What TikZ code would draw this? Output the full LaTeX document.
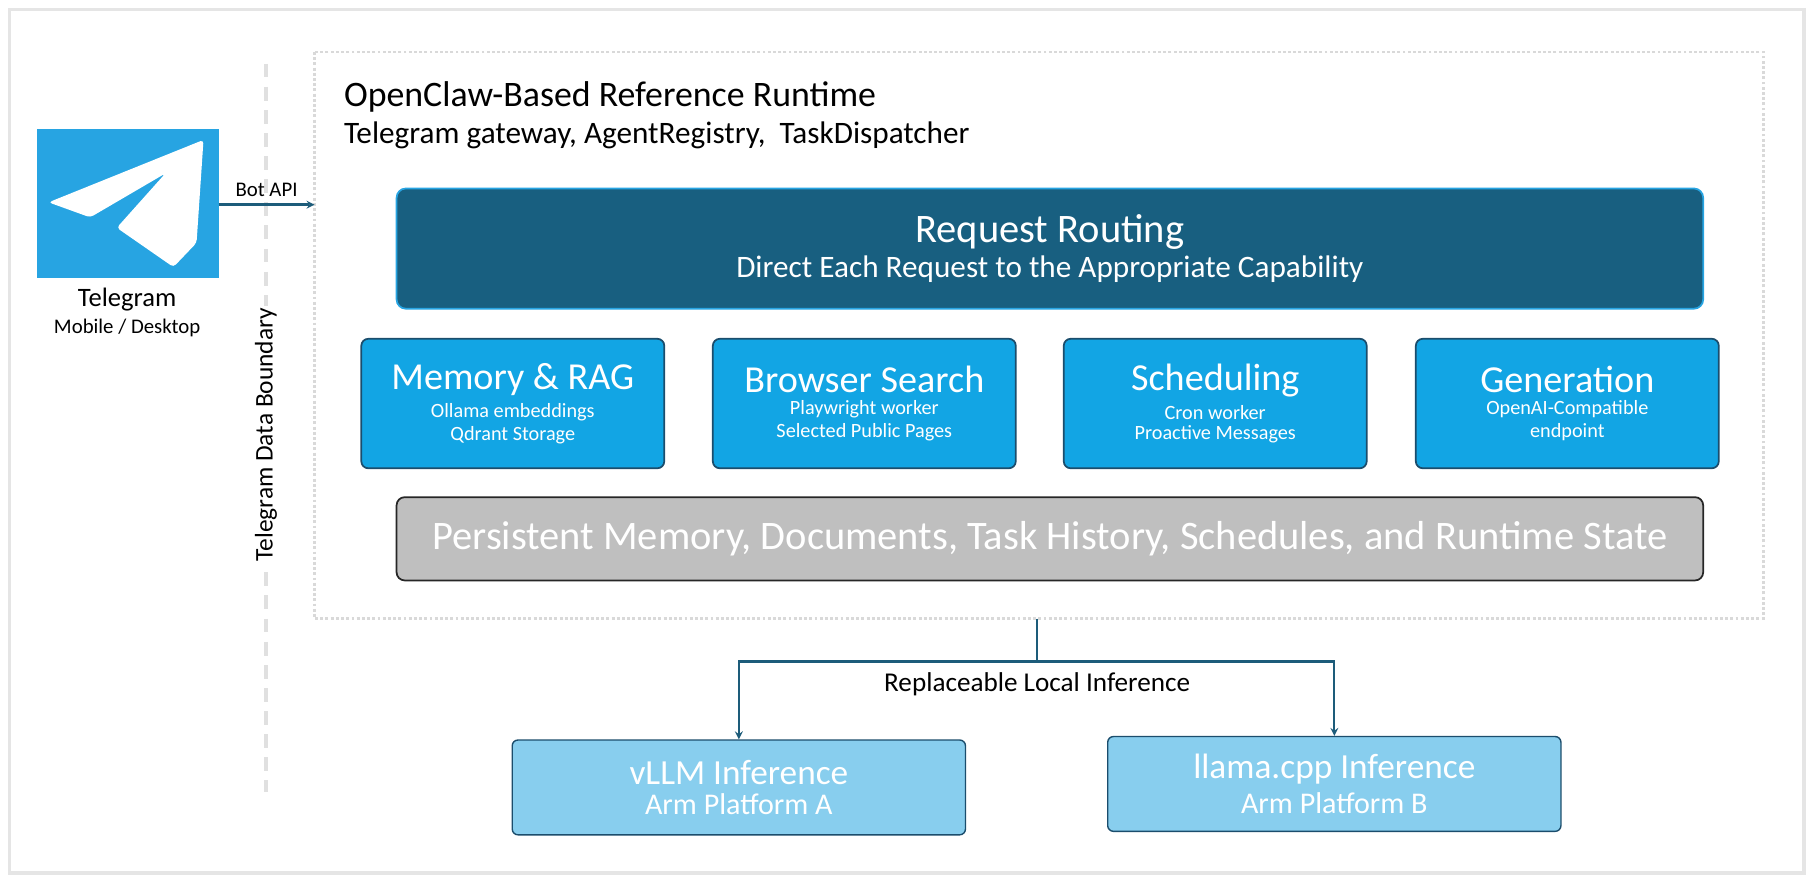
\documentclass[tikz,border=0pt]{standalone}
\usepackage{fontspec}
\setmainfont{Carlito}
\usetikzlibrary{positioning}
\definecolor{tgblue}{HTML}{27A4E2}
\definecolor{routing}{HTML}{185F80}
\definecolor{capfill}{HTML}{12A5E4}
\definecolor{capdraw}{HTML}{1B4D6C}
\definecolor{inffill}{HTML}{88CEEE}
\definecolor{linkcol}{HTML}{1D5C7A}
\newcommand{\fs}[2]{\fontsize{#1}{#2}\selectfont}
\tikzset{
  capability/.style={rectangle, rounded corners=6pt, draw=capdraw, line width=1.5pt,
    fill=capfill, text=white, minimum width=262pt, minimum height=112pt, align=center},
  inference/.style={rectangle, rounded corners=5pt, draw=capdraw, line width=1.2pt,
    fill=inffill, text=white, minimum width=392pt, minimum height=82pt, align=center},
  link/.style={line width=2pt, draw=linkcol, ->, >=stealth}
}
\begin{document}
\begin{tikzpicture}[x=1pt, y=-1pt]
  \useasboundingbox (0,0) rectangle (1568,762);
  \draw[line width=3pt, draw=black!10] (8,8) rectangle (1560,755);
  \draw[line width=2.5pt, draw=black!15, dotted] (272,45) rectangle (1525,535);
  % telegram side
  \fill[tgblue] (32,112) rectangle (189,240);
  \fill[white, rounded corners=3pt] (176,121) -- (42,175) -- (78,188) -- (143,150) -- (101,197) -- (150,231) -- (170,210) -- cycle;
  \coordinate (tgright) at (189,177);
  \coordinate (tgin) at (272,177);
  \node (tglabel) at (110,259) {\fs{23}{26}Telegram};
  \node (tgsub) at (110,284) {\fs{18}{21}Mobile / Desktop};
  \draw[line width=3pt, draw=black!12, dashed, dash pattern=on 12pt off 8pt] (230,55) -- (230,685);
  \node[rotate=90, fill=white, inner sep=2pt] (boundary) at (230,376) {\fs{22}{26}Telegram Data Boundary};
  \draw[link] (tgright) -- node[above=3pt] {\fs{18}{21}Bot API} (tgin);
  % runtime
  \node[anchor=base west] (title) at (294,92) {\fs{31}{36}OpenClaw-Based Reference Runtime};
  \node[anchor=base west] (subtitle) at (294,124) {\fs{27}{31}Telegram gateway, AgentRegistry,\ \ TaskDispatcher};
  \node[rectangle, rounded corners=8pt, draw=tgblue, line width=1.5pt, fill=routing, text=white,
    minimum width=1130pt, minimum height=104pt, align=center] (routing) at (908,215)
    {\fs{35}{40}Request Routing\\[4pt]\fs{27}{33}Direct Each Request to the Appropriate Capability};
  \node[capability] (memory) at (443.5,349) {\fs{33}{36}Memory \& RAG\\[6pt]\fs{17.5}{23}Ollama embeddings\\[4pt]\fs{17.5}{23}Qdrant Storage};
  \node[capability] (browser) at (747.5,349) {\fs{33}{36}Browser Search\\[6pt]\fs{17.5}{23}Playwright worker\\[4pt]\fs{17.5}{23}Selected Public Pages};
  \node[capability] (schedule) at (1051,349) {\fs{33}{36}Scheduling\\[6pt]\fs{17.5}{23}Cron worker\\[4pt]\fs{17.5}{23}Proactive Messages};
  \node[capability] (generation) at (1355.5,349) {\fs{33}{36}Generation\\[6pt]\fs{17.5}{23}OpenAI-Compatible\\[4pt]\fs{17.5}{23}endpoint};
  \node[rectangle, rounded corners=7pt, draw=black!85, line width=1.5pt, fill=black!25, text=white,
    minimum width=1130pt, minimum height=72pt] (state) at (908,466)
    {\fs{35}{40}Persistent Memory, Documents, Task History, Schedules, and Runtime State};
  % inference
  \coordinate (runtimebottom) at (897,535);
  \coordinate (split) at (897,572);
  \node[inference] (vllm) at (639,681) {\fs{30.5}{34}vLLM Inference\\[7pt]\fs{26}{31}Arm Platform A};
  \node[inference] (llama) at (1154,678) {\fs{30.5}{34}llama.cpp Inference\\[7pt]\fs{26}{31}Arm Platform B};
  \draw[line width=2pt, draw=linkcol] (runtimebottom) -- (split);
  \draw[link] (split) -| (vllm.north);
  \draw[link] (split) -| (llama.north);
  \node (replace) at (897,592) {\fs{23.5}{27}Replaceable Local Inference};
\end{tikzpicture}
\end{document}
